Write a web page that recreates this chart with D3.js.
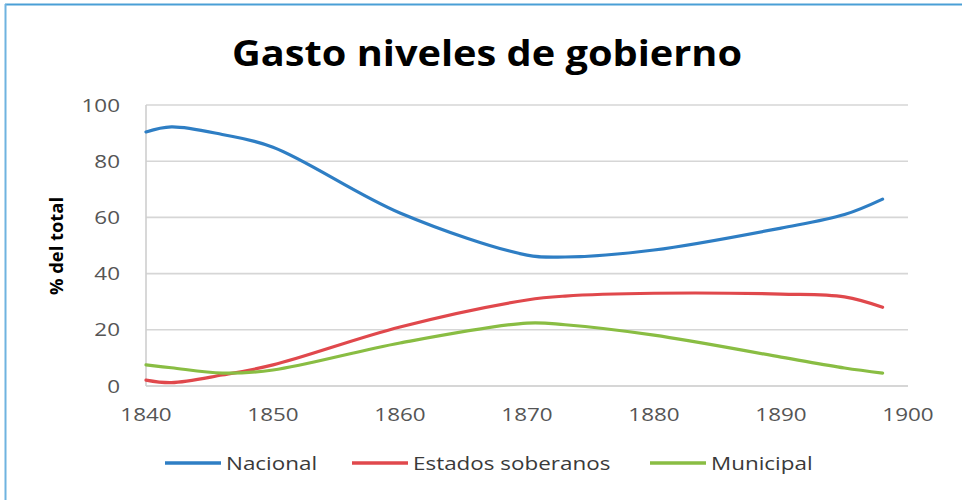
<!DOCTYPE html>
<html>
<head>
<meta charset="utf-8">
<script src="https://cdn.jsdelivr.net/npm/d3@7"></script>
<style>
  body { margin: 0; background: #fff; }
  svg { display: block; }
</style>
</head>
<body>
<svg width="962" height="500"></svg>
<script>
let width = 962, height = 500;

// data
let years = [1840, 1842, 1846, 1850, 1860, 1870, 1873, 1880, 1890, 1895, 1898];
let nacional = [90.4, 92.2, 89.5, 85, 61.6, 46.6, 45.9, 48.4, 56.2, 61, 66.5];
let estados = [2.1, 1.2, 3.9, 7.5, 21, 30.6, 32, 33, 32.7, 31.7, 28];
let municipal = [7.5, 6.5, 4.6, 5.7, 15.3, 22.4, 21.8, 18.1, 10.3, 6.4, 4.6];
let seriesNames = ["Nacional", "Estados soberanos", "Municipal"];
let seriesColors = ["#2e7ec4", "#e0484c", "#89bd43"];
let xTicks = [1840, 1850, 1860, 1870, 1880, 1890, 1900];
let yTicks = [0, 20, 40, 60, 80, 100];

let svg = d3.select("svg");
let font = "'Open Sans', sans-serif";
let stretch = 1.18;   // the original picture is a bit wider than tall

// widen a text to the stretched look of the original
function widen(sel, k) {
    sel.each(function () {
        let w = this.getComputedTextLength();
        d3.select(this)
            .attr("textLength", w * k)
            .attr("lengthAdjust", "spacingAndGlyphs");
    });
}

// frame (only top and left edges show)
svg.append("line").attr("x1", 5).attr("x2", width).attr("y1", 4.5).attr("y2", 4.5)
    .attr("stroke", "#4a9fd6").attr("stroke-width", 2);
svg.append("line").attr("x1", 5.5).attr("x2", 5.5).attr("y1", 4).attr("y2", height)
    .attr("stroke", "#6fb3e0").attr("stroke-width", 2);

let x = d3.scaleLinear().domain([1840, 1900]).range([146, 908]);
let y = d3.scaleLinear().domain([0, 100]).range([386, 105]);

// gridlines
svg.append("g")
    .selectAll("line")
    .data(yTicks)
    .enter().append("line")
    .attr("x1", x(1840)).attr("x2", x(1900))
    .attr("y1", d => y(d)).attr("y2", d => y(d))
    .attr("stroke", d => d == 0 ? "#c8c8c8" : "#d6d6d6")
    .attr("stroke-width", 1.6);

// y axis line
svg.append("line")
    .attr("x1", x(1840)).attr("x2", x(1840))
    .attr("y1", y(100)).attr("y2", y(0))
    .attr("stroke", "#cfcfcf").attr("stroke-width", 1.6);

// y tick labels
svg.append("g")
    .selectAll("text")
    .data(yTicks)
    .enter().append("text")
    .attr("x", 120)
    .attr("y", d => y(d))
    .attr("dy", "0.35em")
    .attr("text-anchor", "end")
    .style("font-family", font)
    .style("font-size", "19px")
    .style("fill", "#555")
    .text(d => d)
    .call(widen, stretch);

// x tick labels
svg.append("g")
    .selectAll("text")
    .data(xTicks)
    .enter().append("text")
    .attr("x", d => x(d))
    .attr("y", 414)
    .attr("dy", "0.35em")
    .attr("text-anchor", "middle")
    .style("font-family", font)
    .style("font-size", "19px")
    .style("fill", "#555")
    .text(d => d)
    .call(widen, stretch);

// title
svg.append("text")
    .attr("x", 487)
    .attr("y", 66)
    .attr("text-anchor", "middle")
    .attr("textLength", 510)
    .attr("lengthAdjust", "spacingAndGlyphs")
    .style("font-family", font)
    .style("font-weight", "bold")
    .style("font-size", "36px")
    .style("fill", "#000")
    .text("Gasto niveles de gobierno");

// y axis title
svg.append("text")
    .attr("transform", "translate(63,246) rotate(-90)")
    .attr("text-anchor", "middle")
    .attr("textLength", 98)
    .attr("lengthAdjust", "spacingAndGlyphs")
    .style("font-family", font)
    .style("font-weight", "bold")
    .style("font-size", "18px")
    .style("fill", "#000")
    .text("% del total");

// lines
let allSeries = [nacional, estados, municipal];
let line = d3.line()
    .x((d, i) => x(years[i]))
    .y(d => y(d))
    .curve(d3.curveCatmullRom.alpha(0.5));

svg.append("g")
    .selectAll("path")
    .data(allSeries)
    .enter().append("path")
    .attr("d", d => line(d))
    .attr("fill", "none")
    .attr("stroke", (d, i) => seriesColors[i])
    .attr("stroke-width", 3.2)
    .attr("stroke-linecap", "round");

// legend
let legendX = [165, 352, 650];
let legend = svg.append("g")
    .selectAll("g")
    .data(seriesNames)
    .enter().append("g")
    .attr("transform", (d, i) => "translate(" + legendX[i] + ",463)");

legend.append("line")
    .attr("x1", 0).attr("x2", 56)
    .attr("stroke", (d, i) => seriesColors[i])
    .attr("stroke-width", 3.5);

legend.append("text")
    .attr("x", 61)
    .attr("dy", "0.35em")
    .style("font-family", font)
    .style("font-size", "19px")
    .style("fill", "#3a3a3a")
    .text(d => d)
    .call(widen, stretch);
</script>
</body>
</html>
